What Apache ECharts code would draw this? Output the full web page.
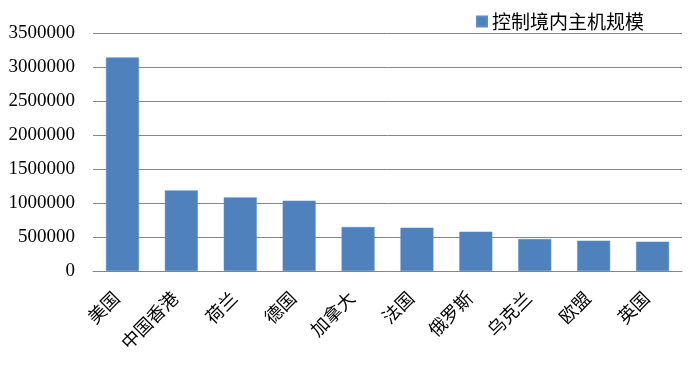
<!DOCTYPE html>
<html><head><meta charset="utf-8">
<script src="https://cdn.jsdelivr.net/npm/echarts@6/dist/echarts.min.js"></script>
<style>html,body{margin:0;padding:0;background:#fff}#c{width:700px;height:369px}</style>
</head><body><div id="c"></div>
<script>
var categories = ['美国','中国香港','荷兰','德国','加拿大','法国','俄罗斯','乌克兰','欧盟','英国'];
var seriesName = '控制境内主机规模';
var values = [3141000, 1185000, 1082000, 1034000, 647000, 637000, 578000, 470000, 446000, 431000];
var chart = echarts.init(document.getElementById('c'), null, {renderer:'canvas'});
chart.setOption({
  animation:false,
  backgroundColor:'#fff',
  legend:{
    data:[seriesName], right:51, top:7, icon:'rect', itemWidth:10, itemHeight:10, itemGap:5,
    textStyle:{fontFamily:'Noto Sans CJK SC', fontSize:19, color:'#000'}
  },
  grid:{left:93, right:18, top:33, bottom:98, containLabel:false},
  xAxis:{
    type:'category', data:categories,
    axisLine:{lineStyle:{color:'#868686', width:1}},
    axisTick:{show:false},
    axisLabel:{rotate:45, margin:30, interval:0, verticalAlign:'bottom', fontFamily:'Noto Sans CJK SC', fontSize:18, color:'#000'}
  },
  yAxis:{
    type:'value', min:0, max:3500000, interval:500000,
    axisLine:{show:false}, axisTick:{show:false},
    splitLine:{lineStyle:{color:'#868686', width:1}},
    axisLabel:{margin:18, fontFamily:'Liberation Serif', fontSize:19, color:'#000', formatter:function(v){return String(v);}}
  },
  series:[{
    name:seriesName, type:'bar', data:values, barCategoryGap:'44%',
    itemStyle:{color:'#4f81bd', borderColor:'#5b8cc6', borderWidth:0.5}
  }]
});
</script></body></html>
